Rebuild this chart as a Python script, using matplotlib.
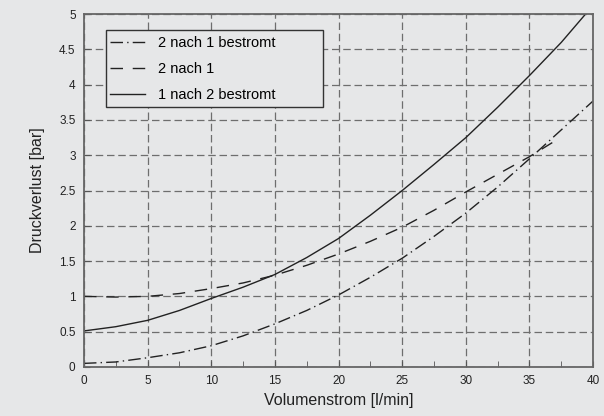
import numpy as np
import matplotlib
matplotlib.use("Agg")
import matplotlib.pyplot as plt
from matplotlib.patches import Rectangle

plt.rcParams['font.family'] = ['Liberation Sans', 'DejaVu Sans']

# Volumenstrom [l/min]
flow = [0, 2.5, 5, 7.5, 10, 12.5, 15, 17.5, 20, 22.5, 25, 27.5, 30, 32.5, 35, 37.5, 40]

# 2 nach 1 bestromt (dash-dot)
p_21_bestromt = [0.05, 0.07, 0.13, 0.20, 0.30, 0.44, 0.61, 0.80, 1.02, 1.27, 1.54,
                 1.85, 2.18, 2.55, 2.95, 3.36, 3.77]

# 2 nach 1 (dashed), ends a bit before 37
flow_21 = [0, 2.5, 5, 7.5, 10, 12.5, 15, 17.5, 20, 22.5, 25, 27.5, 30, 32.5, 35, 36.8]
p_21 = [1.00, 0.99, 1.00, 1.04, 1.11, 1.19, 1.30, 1.44, 1.60, 1.78, 1.98, 2.22,
        2.48, 2.73, 2.98, 3.18]

# 1 nach 2 bestromt (solid)
flow_12 = [0, 2.5, 5, 7.5, 10, 12.5, 15, 17.5, 20, 22.5, 25, 27.5, 30, 32.5, 35, 37.5, 39.4]
p_12 = [0.51, 0.57, 0.66, 0.80, 0.97, 1.13, 1.31, 1.55, 1.82, 2.15, 2.50, 2.87,
        3.25, 3.68, 4.13, 4.60, 5.00]

bg = '#e6e7e8'
ink = '#222222'

fig = plt.figure(figsize=(6.04, 4.16), dpi=100, facecolor=bg)
ax = fig.add_axes([0.139, 0.118, 0.843, 0.848], facecolor=bg)

ax.plot(flow, p_21_bestromt, color=ink, lw=1.0, dashes=(9, 3, 1, 3), label='2 nach 1 bestromt')
ax.plot(flow_21, p_21, color=ink, lw=1.0, dashes=(9, 7), label='2 nach 1')
ax.plot(flow_12, p_12, color=ink, lw=1.0, label='1 nach 2 bestromt')

ax.set_xlim(0, 40)
ax.set_ylim(0, 5)
ax.set_xticks(np.arange(0, 41, 5))
ax.set_xticks(np.arange(2.5, 40, 5), minor=True)
ax.set_yticks(np.arange(0, 5.01, 0.5))
ax.set_yticklabels(['0', '0.5', '1', '1.5', '2', '2.5', '3', '3.5', '4', '4.5', '5'])

ax.grid(True, which='major', color='#6e6e6e', lw=0.9, dashes=(6, 3))
ax.set_axisbelow(True)

ax.tick_params(which='both', direction='in', colors='#555555', labelcolor='#222222',
               labelsize=8.5, pad=6)
ax.tick_params(which='major', length=4)
ax.tick_params(which='minor', length=4)

for s in ax.spines.values():
    s.set_color('#666666')
    s.set_linewidth(1.3)

ax.set_xlabel('Volumenstrom [l/min]', fontsize=11.5, color='#222222', labelpad=4)
ax.set_ylabel('Druckverlust [bar]', fontsize=11.5, color='#222222', labelpad=10)

# legend box is wider than its content, so draw the frame separately
box = Rectangle((0.0432, 0.7365), 0.4263, 0.2185, transform=ax.transAxes,
                facecolor=bg, edgecolor='#333333', lw=1.0, zorder=4)
ax.add_patch(box)
leg = ax.legend(loc='upper left', bbox_to_anchor=(0.051, 0.937), frameon=False,
                fontsize=10.5, handlelength=2.4, borderpad=0, labelspacing=0.8,
                handletextpad=0.9, borderaxespad=0)
leg.set_zorder(5)

fig.savefig('out.png', dpi=100, facecolor=bg)
